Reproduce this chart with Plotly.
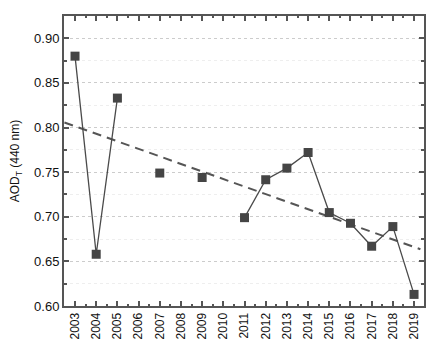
import numpy as np
import plotly.graph_objects as go

years = [2003, 2004, 2005, 2006, 2007, 2008, 2009, 2010, 2011, 2012, 2013,
         2014, 2015, 2016, 2017, 2018, 2019]
aod = [0.880, 0.658, 0.833, None, 0.749, None, 0.744, None, 0.699, 0.7415,
       0.7545, 0.772, 0.7047, 0.6927, 0.667, 0.689, 0.613]
trend_x = [2002.5, 2019.3]
y_ticks = [0.60, 0.65, 0.70, 0.75, 0.80, 0.85, 0.90]

xs = np.array([x for x, v in zip(years, aod) if v is not None], dtype=float)
vs = np.array([v for v in aod if v is not None], dtype=float)
slope, intercept = np.polyfit(xs, vs, 1)
trend_y = [slope * x + intercept for x in trend_x]

fig = go.Figure()
fig.add_trace(go.Scatter(
    x=trend_x, y=trend_y, mode="lines",
    line=dict(color="#555555", width=2, dash="9px,6px"),
    hoverinfo="skip", showlegend=False))
fig.add_trace(go.Scatter(
    x=years, y=aod, mode="lines+markers", connectgaps=False,
    line=dict(color="#4a4a4a", width=1.3),
    marker=dict(symbol="square", size=9, color="#454545"),
    showlegend=False))

axis_common = dict(
    showline=True, linecolor="#555555", linewidth=2, mirror="ticks",
    ticks="inside", tickcolor="#555555", tickwidth=1.5,
    tickfont=dict(family="Liberation Sans, Arial, sans-serif", size=13, color="#111111"),
    zeroline=False, automargin=False,
)

# page body has an 8px default margin, so the figure is shrunk by 8px
fig.update_layout(
    width=432, height=347,
    margin=dict(l=56, r=16, t=8, b=49),
    paper_bgcolor="white", plot_bgcolor="white",
    xaxis=dict(
        **axis_common,
        range=[2002.48, 2019.47],
        tickvals=years, ticktext=[str(y) for y in years],
        tickangle=-90, ticklen=5, showgrid=False,
        minor=dict(dtick=0.5, tick0=2002.5, ticks="inside", ticklen=2,
                   tickcolor="#555555", showgrid=False),
    ),
    yaxis=dict(
        **axis_common,
        range=[0.60, 0.925],
        tickvals=y_ticks, tickformat=".2f", ticklen=5,
        showgrid=True, gridcolor="#cccccc", griddash="dot", gridwidth=1,
        minor=dict(dtick=0.025, tick0=0.60, ticks="inside", ticklen=3,
                   tickcolor="#555555", showgrid=True, gridcolor="#eeeeee",
                   gridwidth=1),
        title=dict(text="AOD<sub>T</sub> (440 nm)", standoff=14,
                   font=dict(family="Liberation Sans, Arial, sans-serif", size=12,
                             color="#111111")),
    ),
)
fig.update_xaxes(tickfont=dict(size=12))

fig.write_html("out.html")
